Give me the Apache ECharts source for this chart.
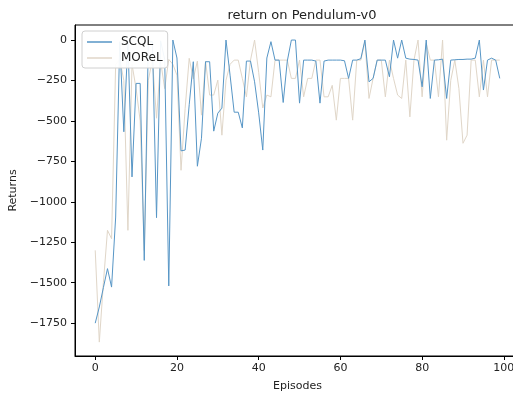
<!DOCTYPE html>
<html>
<head>
<meta charset="utf-8">
<script src="https://cdn.jsdelivr.net/npm/echarts@6/dist/echarts.min.js"></script>
<style>
  html, body { margin: 0; padding: 0; background: #fff; }
  #chart { width: 513px; height: 396px; }
</style>
</head>
<body>
<div id="chart"></div>
<script>
// values, one per episode (0..99)
const scql = [
  -1750, -1650, -1530, -1413, -1527, -1094, -10, -567, -5, -846,
  -268, -268, -1362, -5, -10, -1098, -5, -120, -1520, 0,
  -111, -685, -680, -400, -134, -780, -607, -134, -134, -563,
  -452, -421, 0, -217, -446, -446, -543, -130, -130, -258,
  -450, -680, -111, -10, -124, -124, -386, -130, 0, 0,
  -390, -124, -124, -124, -130, -390, -130, -124, -124, -124,
  -124, -128, -237, -124, -124, -115, 0, -258, -237, -124,
  -124, -124, -227, 0, -112, 0, -112, -118, -120, -124,
  -289, 0, -361, -124, -122, -118, -361, -124, -122, -120,
  -120, -118, -118, -112, 0, -309, -124, -112, -124, -237
];
const morel = [
  -1300, -1867, -1500, -1176, -1228, -150, -120, -250, -1176, -150,
  -300, -500, -1300, -248, -120, -483, -130, -300, -120, -150,
  -217, -805, -423, -113, -240, -130, -464, -130, -340, -340,
  -248, -588, -248, -150, -124, -124, -237, -351, -124, 0,
  -200, -420, -340, -351, -124, -124, -124, -124, -237, -237,
  -124, -351, -237, -237, -124, -124, -351, -351, -280, -495,
  -237, -237, -237, -495, -124, -124, -10, -361, -237, -124,
  -124, -351, -124, -237, -340, -361, -124, -475, -124, 0,
  -351, -20, -124, -124, -351, 0, -619, -250, -124, -300,
  -638, -588, -124, -124, -351, -124, -351, -124, -124, -124
];
const episodes = scql.map((_, i) => i);
const xTicks = [0, 20, 40, 60, 80, 100];
const yTicks = [0, -250, -500, -750, -1000, -1250, -1500, -1750];

const font = 'DejaVu Sans';
const minus = v => String(v).replace('-', '\u2212');

const chart = echarts.init(document.getElementById('chart'));
chart.setOption({
  animation: false,
  backgroundColor: '#fff',
  title: {
    text: 'return on Pendulum-v0',
    left: 297, top: 4,
    textAlign: 'center',
    textStyle: { fontFamily: font, fontSize: 13, fontWeight: 'normal', color: '#222' }
  },
  // plot box runs past the right edge of the picture, as in the reference
  grid: {
    left: 75, top: 25, width: 445, height: 331,
    outerBoundsMode: 'none',
    show: true, borderColor: '#000', borderWidth: 1
  },
  legend: {
    data: ['SCQL', 'MOReL'],
    orient: 'vertical',
    left: 82, top: 31,
    itemWidth: 25, itemHeight: 1.5, itemGap: 4,
    icon: 'rect',
    padding: [5, 5, 4, 5],
    backgroundColor: 'rgba(255,255,255,0.93)',
    borderColor: '#d0d0d0', borderWidth: 1, borderRadius: 3,
    textStyle: { fontFamily: font, fontSize: 12, color: '#222', padding: [0, 0, 0, 4] }
  },
  xAxis: {
    type: 'value',
    min: -4.95, max: 103.95,
    name: 'Episodes', nameLocation: 'middle', nameGap: 25,
    nameTextStyle: { fontFamily: font, fontSize: 11, color: '#222' },
    axisLine: { show: true, onZero: false, lineStyle: { color: '#000' } },
    axisTick: { show: true, length: 4, customValues: xTicks, lineStyle: { color: '#000' } },
    axisLabel: { customValues: xTicks, margin: 7, fontFamily: font, fontSize: 11, color: '#222' },
    splitLine: { show: false }
  },
  yAxis: {
    type: 'value',
    min: -1953, max: 93,
    name: 'Returns', nameLocation: 'middle', nameGap: 56,
    nameTextStyle: { fontFamily: font, fontSize: 11, color: '#222' },
    axisLine: { show: true, onZero: false, lineStyle: { color: '#000' } },
    axisTick: { show: true, length: 4, customValues: yTicks, lineStyle: { color: '#000' } },
    axisLabel: { customValues: yTicks, margin: 8, fontFamily: font, fontSize: 11, color: '#222', formatter: minus },
    splitLine: { show: false }
  },
  series: [
    {
      name: 'MOReL',
      type: 'line',
      showSymbol: false,
      data: episodes.map(i => [i, morel[i]]),
      itemStyle: { color: '#e0d6c8' },
      lineStyle: { color: '#e0d6c8', width: 1 }
    },
    {
      name: 'SCQL',
      type: 'line',
      showSymbol: false,
      data: episodes.map(i => [i, scql[i]]),
      itemStyle: { color: '#5796c6' },
      lineStyle: { color: '#5796c6', width: 1 }
    }
  ]
});
</script>
</body>
</html>
